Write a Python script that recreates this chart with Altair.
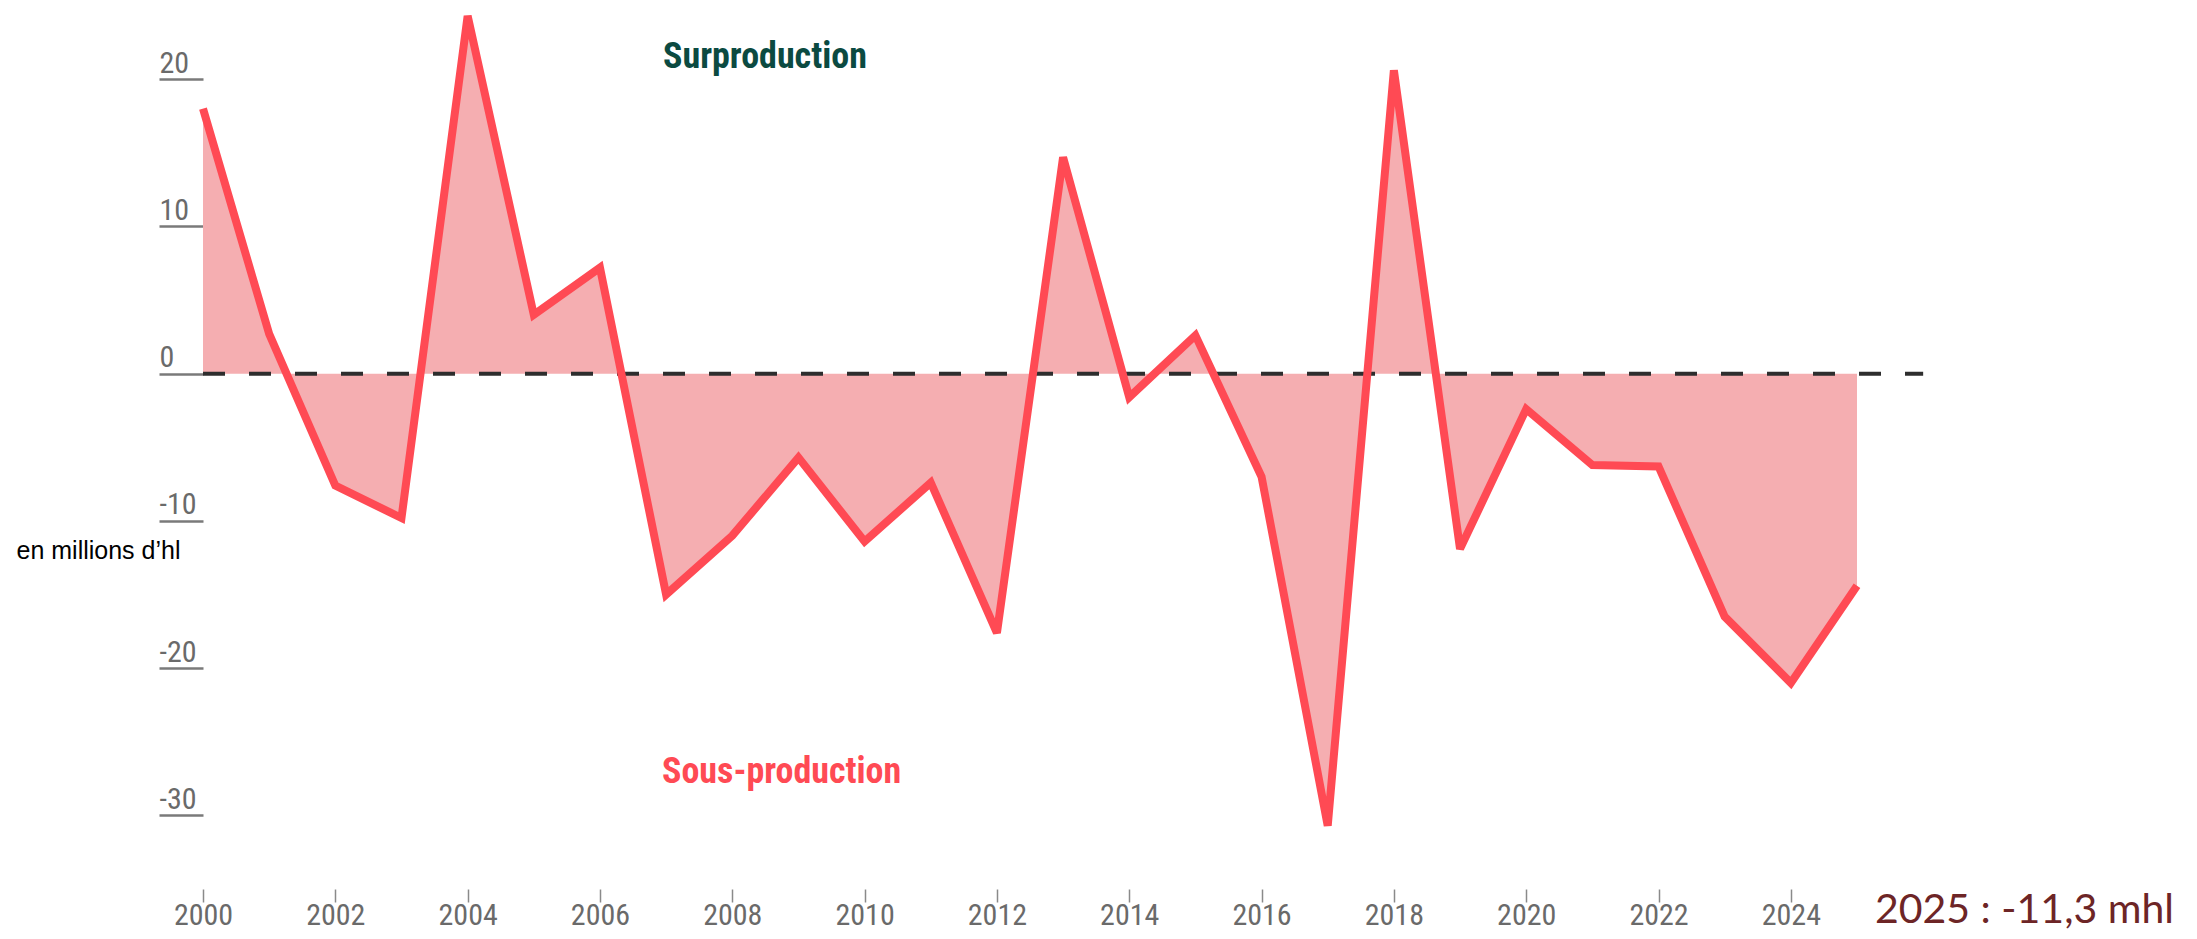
import altair as alt
import pandas as pd

years = list(range(2000, 2026))
values = [18.0, 2.7, -7.6, -9.8, 24.3, 4.0, 7.2, -15.0, -11.0, -5.7, -11.4, -7.4, -17.6,
          14.7, -1.6, 2.6, -7.0, -30.7, 20.6, -11.9, -2.4, -6.2, -6.3, -16.5, -21.0, -14.4]
x_ticks = list(range(2000, 2025, 2))
y_ticks = [-30, -20, -10, 0, 10, 20]
zero_line = {"x": [2000], "x2": [2026], "y": [0]}
label_over = "Surproduction"
label_under = "Sous-production"
label_2025 = "2025 : -11,3 mhl"
unit_label = "en millions d\u2019hl"

df = pd.DataFrame({"year": years, "value": values})

COND = "Roboto Condensed, Roboto, sans-serif"

xs = alt.Scale(domain=[2000, 2025], nice=False, zero=False)
ys = alt.Scale(domain=[-35, 24.5], nice=False, zero=False)

x_axis = alt.Axis(values=x_ticks, format="d", tickSize=13, tickColor="#8a8a8a", tickWidth=1.5,
                  domain=False, grid=False, labelFlush=False, labelOverlap=False,
                  labelPadding=22, labelBaseline="alphabetic", labelFont=COND,
                  labelFontSize=30, labelColor="#6a6a6a", title=None)
y_axis = alt.Axis(values=y_ticks, tickSize=44, tickWidth=2.5, tickColor="#7a7a7a",
                  domain=False, grid=False, labelAlign="left", labelBaseline="alphabetic",
                  labelExpr="datum.value < 0 ? '-' + abs(datum.value) : '' + datum.value",
                  labelOffset=-7, labelPadding=0, labelFont=COND, labelFontSize=30,
                  labelColor="#6a6a6a", title=unit_label, titleAngle=0, titleAlign="left",
                  titleBaseline="alphabetic", titleX=-187, titleY=545,
                  titleFont="Liberation Sans, Arial, sans-serif", titleFontSize=25,
                  titleFontWeight="normal", titleColor="#000000")

base = alt.Chart(df)

area = base.mark_area(color="#F5AEB1", opacity=1).encode(
    x=alt.X("year:Q", scale=xs, axis=x_axis),
    y=alt.Y("value:Q", scale=ys, axis=y_axis),
    y2=alt.datum(0),
)

rule = alt.Chart(pd.DataFrame(zero_line)).mark_rule(
    color="#2e2e2e", strokeWidth=4, strokeDash=[22, 24]
).encode(x=alt.X("x:Q", scale=xs), x2="x2:Q", y=alt.Y("y:Q", scale=ys))

line = base.mark_line(color="#FF4A54", strokeWidth=8, strokeJoin="miter",
                      strokeMiterLimit=2.5, strokeCap="butt").encode(
    x=alt.X("year:Q", scale=xs), y=alt.Y("value:Q", scale=ys)
)

def annot(text, x, y, font, size, weight, color):
    return alt.Chart(pd.DataFrame({"t": [text]})).mark_text(
        align="left", baseline="alphabetic", font=font, fontSize=size,
        fontWeight=weight, color=color
    ).encode(text="t:N", x=alt.value(x), y=alt.value(y))

t1 = annot(label_over, 460, 55, COND, 36, "bold", "#0B4A41")
t2 = annot(label_under, 459, 770, COND, 36, "bold", "#FF4A54")
t3 = annot(label_2025, 1672, 910, "Lato, Open Sans, sans-serif", 41, "normal", "#6D2526")

chart = alt.layer(area, rule, line, t1, t2, t3).properties(
    width=1654, height=876,
    padding={"left": 195, "top": 5, "right": 332, "bottom": 42},
    autosize=alt.AutoSizeParams(type="none"),
    background="white",
).configure_view(stroke=None)

chart.save("out.html", embed_options={"renderer": "svg", "actions": False})
